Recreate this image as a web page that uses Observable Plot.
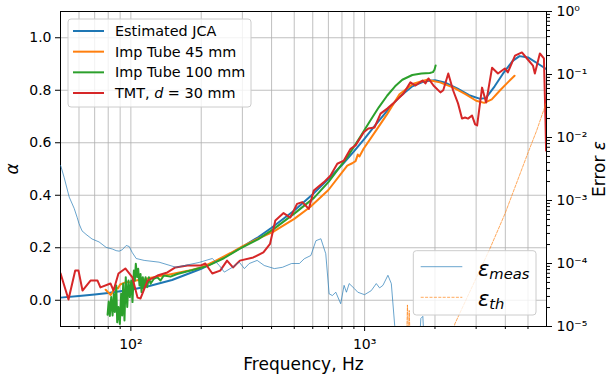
<!DOCTYPE html>
<html><head><meta charset="utf-8">
<script src="https://cdn.jsdelivr.net/npm/d3@7"></script>
<script src="https://cdn.jsdelivr.net/npm/@observablehq/plot@0.6"></script>
<style>
body{margin:0;background:#fff;font-family:"DejaVu Sans";}
#wrap{position:relative;width:609px;height:381px;overflow:hidden;}
#wrap > svg{position:absolute;left:0;top:0;}
</style></head><body><div id="wrap"></div>
<script>
// ---------- data ----------
const jcaFreq = [50,60,70,80,90,100,120,150,200,250,300,350,400,500,600,700,800,900,1000,1100,1250,1400,1600,1800,2000,2200,2500,2800,3100,3300,3600,3900,4300,4600,5000,5500,6000];
const jcaAlpha = [0.010,0.016,0.022,0.028,0.034,0.040,0.054,0.077,0.120,0.163,0.203,0.240,0.276,0.342,0.404,0.462,0.515,0.567,0.616,0.662,0.722,0.772,0.815,0.834,0.838,0.830,0.806,0.781,0.768,0.770,0.815,0.862,0.912,0.930,0.925,0.902,0.880];

const tube45Freq = [78,80,82,84,86,88,90,93,96,100,105,110,115,120,130,150,175,200,230,267,300,350,409,500,585,700,843,885,915,935,950,990,1122,1250,1410,1615,1850,2100,2400,2700,3000,3250,3500,3800,4100,4380];
const tube45Alpha = [0.04,0.03,0.02,0.035,0.05,0.045,0.06,0.065,0.07,0.068,0.075,0.078,0.08,0.085,0.09,0.10,0.112,0.125,0.15,0.18,0.205,0.235,0.262,0.31,0.355,0.42,0.513,0.522,0.53,0.555,0.548,0.577,0.648,0.71,0.785,0.825,0.84,0.83,0.81,0.785,0.76,0.752,0.765,0.80,0.83,0.855];

const tube100Freq = [79.5,80.4,81.3,82.4,83.5,84.5,85.4,86.6,87.4,88.5,89.7,90.9,91.8,92.7,93.9,95.1,96.5,97.7,99.0,100.4,101.6,103.0,104.0,105.0,106.4,107.5,108.9,110.0,111.1,112.5,113.6,115.6,117.5,119.4,121.4,125.4,129.7,133.9,138.3,147.8,157.9,168.6,180,192,212,250,294,350,409,500,607,700,843,961,1050,1150,1250,1350,1450,1600,1750,1900,1960,1990,2013];
const tube100Alpha = [-0.055,-0.005,-0.06,0.012,-0.058,0.025,-0.045,0.056,-0.084,-0.026,-0.09,0.025,-0.058,0.063,-0.077,0.088,-0.026,0.075,0.012,0.075,-0.007,0.113,0.075,0.139,0.088,0.12,0.056,0.1,0.031,0.088,0.044,0.088,0.05,0.088,0.063,0.082,0.088,0.075,0.094,0.09,0.1,0.107,0.113,0.12,0.13,0.16,0.198,0.232,0.272,0.33,0.39,0.45,0.545,0.625,0.68,0.735,0.78,0.815,0.84,0.858,0.864,0.866,0.869,0.878,0.894];

const tmtFreq = [50,54.1,57.8,59.7,62.1,67.2,72.0,74.1,81.8,84.3,88.5,94.7,101.5,106.8,110.0,117.9,130.0,143.3,155.0,174.8,198.4,208.3,223.0,241.1,257.9,273.4,292.6,334,369,394,415,450,481,514,541,559,577,606,670,715,764,815,871,915,992,1038,1102,1170,1250,1326,1465,1570,1650,1770,1820,1875,1970,2110,2170,2280,2390,2510,2610,2690,2770,2880,2970,3030,3180,3310,3510,3720,3980,4100,4400,4710,4950,5250,5350,5620,5850,5940,5975];
const tmtAlpha = [0.103,0.003,0.113,0.113,0.037,0.075,0.075,0.049,0.064,0.037,0.102,0.121,0.087,0.01,0.007,0.075,0.094,0.106,0.125,0.132,0.132,0.14,0.102,0.113,0.151,0.125,0.151,0.163,0.182,0.215,0.304,0.332,0.315,0.367,0.374,0.361,0.348,0.418,0.45,0.475,0.52,0.532,0.577,0.59,0.64,0.654,0.658,0.711,0.73,0.75,0.787,0.83,0.818,0.837,0.826,0.845,0.818,0.792,0.80,0.864,0.80,0.75,0.692,0.696,0.692,0.704,0.67,0.666,0.81,0.753,0.886,0.864,0.883,0.868,0.932,0.944,0.921,0.894,0.864,0.94,0.921,0.685,0.57];

const measFreq = [50,50.3,51.8,54.5,57.2,58.9,60.0,61.8,64.3,68.2,73.1,78.4,83.2,86.5,89.1,91.8,95.5,98.4,101.3,105.4,114,132,156,196,223,239,251,272,291,306,321,347,372,411,445,487,526,552,589,619,650,682,705,728,753,790,817,836,859,904,935,999,1067,1122,1159,1198,1258,1301,1345,1385,1700,1740,1775,1810];
const measErr = [3.6e-3,3.4e-3,2.34e-3,1.13e-3,7.5e-4,5.4e-4,4.3e-4,3.3e-4,2.9e-4,2.45e-4,2.2e-4,1.8e-4,1.7e-4,1.6e-4,1.57e-4,1.65e-4,1.93e-4,1.86e-4,1.5e-4,1.2e-4,1.12e-4,1.05e-4,8.7e-5,1.04e-4,1.2e-4,9.3e-5,7.3e-5,8.7e-5,1.05e-4,8.3e-5,1.0e-4,1.12e-4,9.3e-5,8.3e-5,8.7e-5,1.0e-4,1.0e-4,1.19e-4,1.34e-4,2.3e-4,2.47e-4,1.43e-4,3.3e-5,3.1e-5,3.5e-5,2.3e-5,4.5e-5,3.5e-5,4.8e-5,4.0e-5,3.5e-5,3.2e-5,3.7e-5,4.8e-5,4.1e-5,4.5e-5,6.5e-5,4.8e-5,1.04e-5,3e-6,3e-6,1.34e-5,1.45e-5,3e-6];

const thFreq = [1505,1525,1540,1552,1575,2380,2432,3433,3985,5012,5447,5970];
const thErr = [3e-6,2.2e-5,6e-6,1.8e-5,3e-6,7e-6,1.1e-5,1.71e-4,6.15e-4,5.85e-3,1.29e-2,3.47e-2];

const xGrid = [60,70,80,90,100,200,300,400,500,600,700,800,900,1000,2000,3000,4000,5000];
const xMajor = [100,1000];
const xMajorLabels = ["10²","10³"];
const alphaTicks = [0,0.2,0.4,0.6,0.8,1.0];
const errMajor = [1e-5,1e-4,1e-3,1e-2,1e-1,1];
const errMajorLabels = ["10⁻⁵","10⁻⁴","10⁻³","10⁻²","10⁻¹","10⁰"];
const legend1Labels = ["Estimated JCA","Imp Tube 45 mm","Imp Tube 100 mm","TMT, d = 30 mm"];
const legend2Labels = ["meas","th"];
const xLabel = "Frequency, Hz";
const yLabel = "α";
const y2Label = "Error ε";

const colors = {blue:"#1f77b4",orange:"#ff7f0e",green:"#2ca02c",red:"#d62728"};

// ---------- build ----------
const zip = (fs, vs) => fs.map((f,i)=>({f, v: vs[i]}));
const jca = zip(jcaFreq,jcaAlpha), t45 = zip(tube45Freq,tube45Alpha), t100 = zip(tube100Freq,tube100Alpha), tmt = zip(tmtFreq,tmtAlpha);
const meas = zip(measFreq,measErr), th = zip(thFreq,thErr);
const errMinor = [];
for (const d of [1e-5,1e-4,1e-3,1e-2,1e-1]) for (let k=2;k<=9;k++) errMinor.push(d*k);
const xMinor = xGrid.filter(d=>!xMajor.includes(d));

const W=609,H=381;
const frame = {width:W,height:H,marginLeft:60,marginRight:63,marginTop:11,marginBottom:55};
const grid = {stroke:"#b0b0b0",strokeOpacity:0.8,strokeWidth:1};

const p1 = Plot.plot({...frame,
  style:{fontFamily:"DejaVu Sans",fontSize:"14px",color:"black",background:"white",overflow:"visible"},
  x:{type:"log",domain:[50,6000],axis:null},
  y:{domain:[-0.1,1.1],axis:null},
  marks:[
    Plot.ruleX(xGrid,grid),
    Plot.ruleY(alphaTicks,grid),
    Plot.line(jca,{x:"f",y:"v",stroke:colors.blue,strokeWidth:2,clip:true}),
    Plot.line(t45,{x:"f",y:"v",stroke:colors.orange,strokeWidth:2,clip:true}),
    Plot.line(t100,{x:"f",y:"v",stroke:colors.green,strokeWidth:2,clip:true}),
    Plot.line(tmt,{x:"f",y:"v",stroke:colors.red,strokeWidth:2,clip:true}),
    Plot.frame({stroke:"black",strokeWidth:1}),
    Plot.axisX({ticks:xMajor,tickFormat:(d,i)=>xMajorLabels[xMajor.indexOf(d)],tickSize:5,tickPadding:8,fontSize:14,
      label:xLabel,labelAnchor:"center",labelOffset:43,labelArrow:"none"}),
    Plot.axisX({ticks:xMinor,tickFormat:()=>"",tickSize:3,label:null}),
    Plot.axisY({ticks:alphaTicks,tickFormat:d3.format(".1f"),tickSize:5,tickPadding:4,fontSize:14,
      label:yLabel,labelAnchor:"center",labelOffset:55,labelArrow:"none"})
  ]});

const p2 = Plot.plot({...frame,
  style:{fontFamily:"DejaVu Sans",fontSize:"14px",color:"black",background:"transparent",overflow:"visible"},
  x:{type:"log",domain:[50,6000],axis:null},
  y:{type:"log",domain:[1e-5,1],axis:null},
  marks:[
    Plot.line(meas,{x:"f",y:"v",stroke:colors.blue,strokeWidth:0.9,strokeOpacity:0.75,clip:true}),
    Plot.line(th,{x:"f",y:"v",stroke:colors.orange,strokeWidth:0.9,strokeOpacity:0.75,strokeDasharray:"3,1.4",clip:true}),
    Plot.axisY({anchor:"right",ticks:errMinor,tickFormat:()=>"",tickSize:3,label:null}),
    Plot.axisY({anchor:"right",ticks:errMajor,tickFormat:d=>errMajorLabels[errMajor.findIndex(e=>Math.abs(Math.log10(e/d))<1e-6)],
      tickSize:5,tickPadding:5,fontSize:14,label:y2Label,labelAnchor:"center",labelOffset:58,labelArrow:"none"})
  ]});

const wrap = document.getElementById("wrap");
const NS = "http://www.w3.org/2000/svg";
function restyleLabel(svg, aria, parts){
  const t = svg.querySelector(`g[aria-label="${aria}"] text`);
  if(!t) return;
  t.style.fontSize = "17px";
  t.textContent = "";
  for(const [s,it] of parts){const ts=document.createElementNS(NS,"tspan");ts.textContent=s;if(it)ts.setAttribute("font-style","italic");t.appendChild(ts);}
}
restyleLabel(p1,"x-axis label",[[xLabel,false]]);
restyleLabel(p1,"y-axis label",[[yLabel,true]]);
restyleLabel(p2,"y-axis label",[["Error ",false],["ε",true]]);

function el(tag, attrs, parent){const e=document.createElementNS(NS,tag);for(const k in attrs)e.setAttribute(k,attrs[k]);if(parent)parent.appendChild(e);return e;}

// legend 1 (alpha series)
const lg1 = el("svg",{width:W,height:H,"font-family":"DejaVu Sans","font-size":"14.4"});
el("rect",{x:68,y:19,width:183,height:88,rx:3,fill:"white","fill-opacity":0.8,stroke:"#cccccc"},lg1);
const lg1Colors=[colors.blue,colors.orange,colors.green,colors.red];
legend1Labels.forEach((lab,i)=>{
  const cy = 31 + i*20.67;
  el("line",{x1:73,x2:104,y1:cy,y2:cy,stroke:lg1Colors[i],"stroke-width":2},lg1);
  const t = el("text",{x:115,y:cy+5},lg1);
  if(lab.includes(" d ")){
    const [a,b] = lab.split(" d ");
    const s1=el("tspan",{},t); s1.textContent=a+" ";
    const s2=el("tspan",{"font-style":"italic"},t); s2.textContent="d";
    const s3=el("tspan",{},t); s3.textContent=" "+b;
  } else t.textContent=lab;
});

// legend 2 (error series)
const lg2 = el("svg",{width:W,height:H,"font-family":"DejaVu Sans"});
el("rect",{x:413.3,y:250.7,width:122.7,height:64.3,rx:3,fill:"white","fill-opacity":0.8,stroke:"#cccccc"},lg2);
const lg2Styles=[{stroke:colors.blue,"stroke-width":0.9,"stroke-opacity":0.75},{stroke:colors.orange,"stroke-width":0.9,"stroke-opacity":0.75,"stroke-dasharray":"3,1.4"}];
legend2Labels.forEach((lab,i)=>{
  const cy = 266.7 + i*30.6;
  el("line",{x1:420.7,x2:462.3,y1:cy,y2:cy,...lg2Styles[i]},lg2);
  const t = el("text",{x:478,y:cy+9,"font-style":"italic","font-size":21},lg2);
  const s1=el("tspan",{},t); s1.textContent="ε";
  const s2=el("tspan",{"font-size":14.7,dy:3},t); s2.textContent=lab;
});

wrap.appendChild(p1); wrap.appendChild(lg1); wrap.appendChild(p2); wrap.appendChild(lg2);
</script></body></html>
